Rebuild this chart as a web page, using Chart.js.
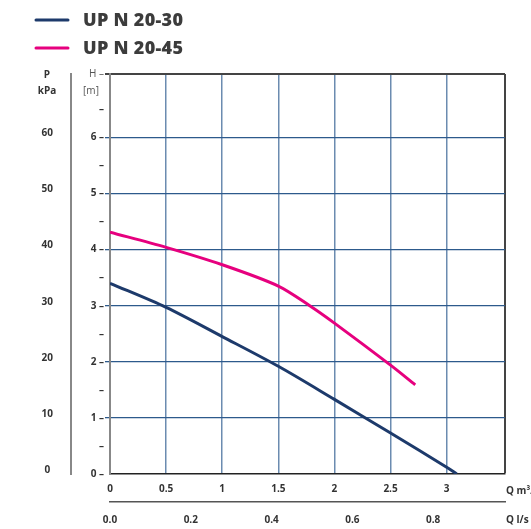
<!DOCTYPE html>
<html>
<head>
<meta charset="utf-8">
<script src="https://cdn.jsdelivr.net/npm/chart.js@4"></script>
<style>
  body { margin: 0; background: #fff; overflow: hidden; }
</style>
</head>
<body>
<canvas id="pumpChart" width="531" height="529"></canvas>
<script>
// pump curves
const seriesNames = ['UP N 20-30', 'UP N 20-45'];
const seriesColors = ['#1d3a6b', '#e6007e'];
const flow2030 = [0, 0.5, 1, 1.5, 2, 2.5, 3, 3.09];
const head2030 = [3.4, 2.97, 2.45, 1.92, 1.33, 0.73, 0.12, 0];
const flow2045 = [0, 0.5, 1, 1.5, 1.78, 2, 2.5, 2.72];
const head2045 = [4.31, 4.04, 3.73, 3.35, 3.0, 2.69, 1.94, 1.59];

// axes
const flowTicks = [0, 0.5, 1, 1.5, 2, 2.5, 3];     // m3/h
const litreTicks = [0, 0.2, 0.4, 0.6, 0.8];        // l/s
const headTicks = [0, 0.5, 1, 1.5, 2, 2.5, 3, 3.5, 4, 4.5, 5, 5.5, 6, 6.5];
const pressureTicks = [0, 10, 20, 30, 40, 50, 60]; // kPa
const xMax = 3.52;
const yMax = 7.13;

const textColor = '#333';
const fontFam = "'Open Sans', 'Noto Sans', sans-serif";

function toPoints(xs, ys) {
  return xs.map((x, i) => ({x: x, y: ys[i]}));
}

const extraText = {
  id: 'extraText',
  afterDraw(chart) {
    const c = chart.ctx;
    c.save();
    // legend
    chart.data.datasets.forEach((ds, i) => {
      const y = 20 + i * 28;
      c.strokeStyle = ds.borderColor;
      c.lineWidth = 3;
      c.lineCap = 'round';
      c.beginPath();
      c.moveTo(36, y);
      c.lineTo(68, y);
      c.stroke();
      c.fillStyle = '#3c3c3c';
      c.font = '800 18px ' + fontFam;
      c.letterSpacing = '0.3px';
      c.textAlign = 'left';
      c.textBaseline = 'middle';
      c.fillText(ds.label, 83, y + 1);
      c.letterSpacing = '0px';
    });
    // axis titles
    c.fillStyle = textColor;
    c.font = 'bold 10px ' + fontFam;
    c.textAlign = 'center';
    c.fillText('P', 47, 75);
    c.fillText('kPa', 47, 91);
    c.font = '10px ' + fontFam;
    c.fillStyle = '#555';
    c.fillText('[m]', 91, 91);
    c.fillStyle = textColor;
    c.font = 'bold 10px ' + fontFam;
    c.textAlign = 'left';
    c.fillText('Q m\u00b3/h', 506, 491);
    c.fillText('Q l/s', 506, 520);
    c.restore();
  }
};

new Chart(document.getElementById('pumpChart'), {
  type: 'line',
  data: {
    datasets: [
      {label: seriesNames[0], data: toPoints(flow2030, head2030), borderColor: seriesColors[0]},
      {label: seriesNames[1], data: toPoints(flow2045, head2045), borderColor: seriesColors[1]}
    ]
  },
  options: {
    responsive: false,
    animation: false,
    devicePixelRatio: 1,
    layout: {padding: {top: 74, right: 26, left: 0, bottom: 0}},
    elements: {
      point: {radius: 0},
      line: {borderWidth: 3, tension: 0.3, fill: false}
    },
    plugins: {legend: {display: false}, tooltip: {enabled: false}},
    scales: {
      x: {
        type: 'linear', position: 'bottom', weight: 0,
        min: 0, max: xMax,
        afterBuildTicks: s => { s.ticks = flowTicks.concat([xMax]).map(v => ({value: v})); },
        afterFit: s => { s.height = 28; },
        ticks: {
          padding: 9,
          color: textColor,
          font: {family: fontFam, size: 10, weight: 'bold'},
          callback: v => (v > 3.01 ? '' : String(v))
        },
        grid: {
          drawTicks: false,
          lineWidth: c => (c.tick && c.tick.value > 3.01 ? 2 : 1.5),
          color: c => {
            if (!c.tick) return 'transparent';
            if (c.tick.value === 0) return 'transparent';
            if (c.tick.value > 3.01) return '#444';
            return '#6b8bb0';
          }
        },
        border: {color: '#222', width: 1.5}
      },
      q: {
        type: 'linear', position: 'bottom', weight: 1,
        min: 0, max: xMax / 3.6,
        afterBuildTicks: s => { s.ticks = litreTicks.map(v => ({value: v})); },
        afterFit: s => { s.height = 27; },
        ticks: {
          padding: 12,
          color: textColor,
          font: {family: fontFam, size: 10, weight: 'bold'},
          callback: v => v.toFixed(1)
        },
        grid: {display: false, drawTicks: false},
        border: {color: '#555', width: 1.5}
      },
      y: {
        type: 'linear', position: 'left', weight: 0,
        min: 0, max: yMax,
        afterBuildTicks: s => { s.ticks = headTicks.concat([yMax]).map(v => ({value: v})); },
        afterFit: s => { s.width = 39; },
        ticks: {
          padding: 1,
          color: c => (c.tick && c.tick.value > 7 ? '#555' : textColor),
          font: c => ({family: fontFam, size: 10, weight: (c.tick && c.tick.value > 7 ? 'normal' : 'bold')}),
          callback: v => {
            if (v > 7) return 'H \u2013';
            if (v % 1 !== 0) return '\u2013';
            return v + ' \u2013';
          }
        },
        grid: {
          drawTicks: true,
          tickLength: 5,
          lineWidth: c => (c.tick && c.tick.value > 7 ? 2 : 1.3),
          color: c => {
            if (!c.tick) return 'transparent';
            const v = c.tick.value;
            if (v > 7) return '#444';
            if (v === 0 || v % 1 !== 0) return 'transparent';
            return '#2d5a8c';
          }
        },
        border: {color: '#888', width: 2}
      },
      p: {
        type: 'linear', position: 'left', weight: 1,
        min: 0, max: yMax * 10,
        afterBuildTicks: s => { s.ticks = pressureTicks.map(v => ({value: v})); },
        afterFit: s => { s.width = 71; },
        ticks: {
          crossAlign: 'center',
          padding: 18,
          labelOffset: -4,
          color: textColor,
          font: {family: fontFam, size: 10, weight: 'bold'}
        },
        grid: {display: false, drawTicks: false},
        border: {color: '#888', width: 2}
      }
    }
  },
  plugins: [extraText]
});
</script>
</body>
</html>
